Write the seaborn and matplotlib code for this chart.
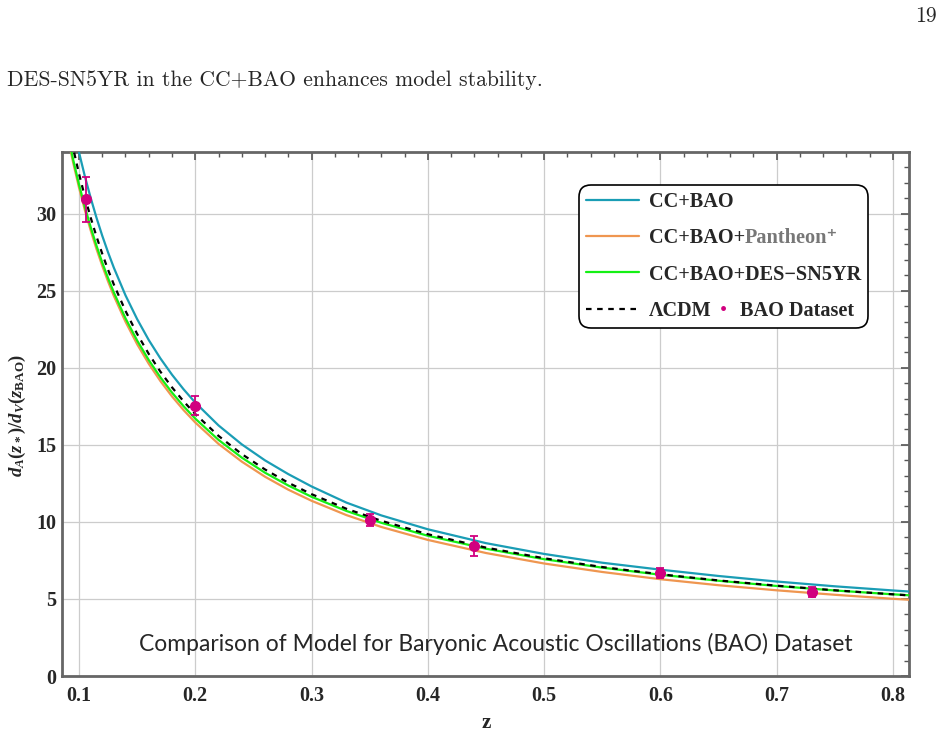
import numpy as np
import pandas as pd
import matplotlib
matplotlib.use('Agg')
import matplotlib.pyplot as plt
import seaborn as sns
from matplotlib.ticker import MultipleLocator

# curves
z_grid = [0.09, 0.095, 0.10, 0.105, 0.11, 0.115, 0.12, 0.125, 0.13, 0.14, 0.15, 0.16,
          0.17, 0.18, 0.19, 0.20, 0.22, 0.24, 0.26, 0.28, 0.30, 0.33, 0.36, 0.40,
          0.45, 0.50, 0.55, 0.60, 0.65, 0.70, 0.75, 0.80, 0.82]
cc_bao = [37.60, 35.70, 33.99, 32.44, 31.04, 29.75, 28.57, 27.49, 26.49, 24.70, 23.16, 21.80,
          20.61, 19.55, 18.60, 17.74, 16.26, 15.03, 13.99, 13.10, 12.30, 11.25, 10.42, 9.52,
          8.62, 7.92, 7.35, 6.90, 6.49, 6.13, 5.82, 5.55, 5.45]
cc_bao_pantheon = [35.09, 33.31, 31.70, 30.25, 28.93, 27.72, 26.62, 25.60, 24.66, 22.99, 21.53, 20.26,
                   19.14, 18.14, 17.25, 16.45, 15.06, 13.91, 12.93, 12.09, 11.37, 10.44, 9.67, 8.83,
                   7.98, 7.30, 6.75, 6.28, 5.89, 5.56, 5.27, 5.01, 4.92]
cc_bao_des = [35.28, 33.50, 31.90, 30.45, 29.14, 27.93, 26.83, 25.82, 24.88, 23.21, 21.77, 20.50,
              19.38, 18.39, 17.50, 16.70, 15.32, 14.17, 13.19, 12.36, 11.63, 10.71, 9.94, 9.10,
              8.26, 7.58, 7.03, 6.57, 6.18, 5.84, 5.55, 5.30, 5.21]
lcdm = [36.07, 34.24, 32.60, 31.11, 29.76, 28.53, 27.40, 26.36, 25.40, 23.69, 22.20, 20.90,
        19.75, 18.73, 17.82, 17.00, 15.58, 14.40, 13.40, 12.54, 11.80, 10.85, 10.07, 9.20,
        8.33, 7.64, 7.07, 6.60, 6.20, 5.86, 5.56, 5.30, 5.20]

bao_z = [0.106, 0.2, 0.35, 0.44, 0.6, 0.73]
bao_val = [30.95, 17.55, 10.11, 8.44, 6.69, 5.45]
bao_err = [1.46, 0.60, 0.37, 0.67, 0.33, 0.31]

sns.set_style('white')
plt.rcParams['font.family'] = ['Liberation Serif', 'DejaVu Sans']
plt.rcParams['mathtext.fontset'] = 'custom'
plt.rcParams['mathtext.rm'] = 'Liberation Serif:bold'
plt.rcParams['mathtext.it'] = 'Liberation Serif:italic:bold'
plt.rcParams['mathtext.bf'] = 'Liberation Serif:bold'

fig = plt.figure(figsize=(9.44, 7.34), dpi=100)
ax = fig.add_axes([62 / 944, 58 / 734, 847 / 944, 524 / 734])

df = pd.DataFrame({'z': z_grid, 'cc': cc_bao, 'pan': cc_bao_pantheon,
                   'des': cc_bao_des, 'lcdm': lcdm})

styles = [('cc', '#1a9db5', '-'),
          ('pan', '#ef9650', '-'),
          ('des', '#14f014', '-'),
          ('lcdm', 'black', (0, (2.5, 2.5)))]
handles = []
for col, color, ls in styles:
    sns.lineplot(data=df, x='z', y=col, ax=ax, color=color, lw=1.6,
                 linestyle=ls, legend=False, zorder=3)
    handles.append(ax.lines[-1])

ax.errorbar(bao_z, bao_val, yerr=bao_err, fmt='o', color='#d1007f', ms=7,
            capsize=3, elinewidth=1.3, capthick=1.3, zorder=4)

ax.set_xlim(0.0854, 0.8138)
ax.set_ylim(0, 34)
ax.xaxis.set_major_locator(MultipleLocator(0.1))
ax.xaxis.set_minor_locator(MultipleLocator(0.02))
ax.yaxis.set_major_locator(MultipleLocator(5))
ax.yaxis.set_minor_locator(MultipleLocator(1))
ax.tick_params(which='both', direction='in', top=True, right=True, color='#555555')
ax.tick_params(which='major', length=6, width=1.2, labelsize=14.5)
ax.tick_params(which='minor', length=3.5, width=1)
ax.tick_params(axis='x', pad=7)
ax.tick_params(axis='y', pad=4)
for lab in ax.get_xticklabels() + ax.get_yticklabels():
    lab.set_fontweight('bold')
ax.grid(which='major', color='#cccccc', lw=0.9)
ax.set_axisbelow(True)
for sp in ax.spines.values():
    sp.set_color('#666666')
    sp.set_linewidth(2)

ax.set_xlabel('z', fontweight='bold', fontsize=15)
ax.xaxis.set_label_coords(0.5006, -0.07)
ax.set_ylabel(r'$d_A(z_*)/d_V(z_{\mathrm{BAO}})$', fontsize=13.5)
ax.yaxis.set_label_coords(-0.04, 0.498)

fs = 14.6
leg = ax.legend(handles=handles,
                labels=['CC+BAO', 'CC+BAO+', 'CC+BAO+DES\u2212SN5YR', '\u039bCDM'],
                loc='upper right', bbox_to_anchor=(0.952, 0.937), borderaxespad=0,
                prop={'weight': 'bold', 'size': fs}, handlelength=2.6,
                handletextpad=0.5, labelspacing=0.8, borderpad=0.35,
                frameon=True, fancybox=True, edgecolor='black', framealpha=1)
leg.get_frame().set_linewidth(1.2)
leg.get_frame().set_boxstyle('round', pad=0, rounding_size=0.6)
texts = leg.get_texts()
ax.annotate('Pantheon\u207a', xy=(1, 0), xycoords=texts[1], va='bottom', ha='left',
            color='#777777', fontweight='bold', fontsize=fs, zorder=6)
dot = ax.annotate('\u2022', xy=(1, 0), xycoords=texts[3], xytext=(6, 0),
                  textcoords='offset points', va='bottom', ha='left',
                  color='#d1007f', fontsize=fs, zorder=6)
ax.annotate('BAO Dataset', xy=(1, 0), xycoords=dot, xytext=(9, 0),
            textcoords='offset points', va='bottom', ha='left',
            fontweight='bold', fontsize=fs, zorder=6)

ax.text(0.512, 0.0477, 'Comparison of Model for Baryonic Acoustic Oscillations (BAO) Dataset',
        transform=ax.transAxes, ha='center', va='baseline', family='Lato', fontsize=16.5)

fig.text(937 / 944, 1 - 22 / 734, '19', ha='right', va='baseline', family='cmr10', fontsize=15.6)
fig.text(7 / 944, 1 - 86 / 734, 'DES-SN5YR in the CC+BAO enhances model stability.',
         ha='left', va='baseline', family='cmr10', fontsize=15.6)

fig.savefig('out.png', dpi=100)
